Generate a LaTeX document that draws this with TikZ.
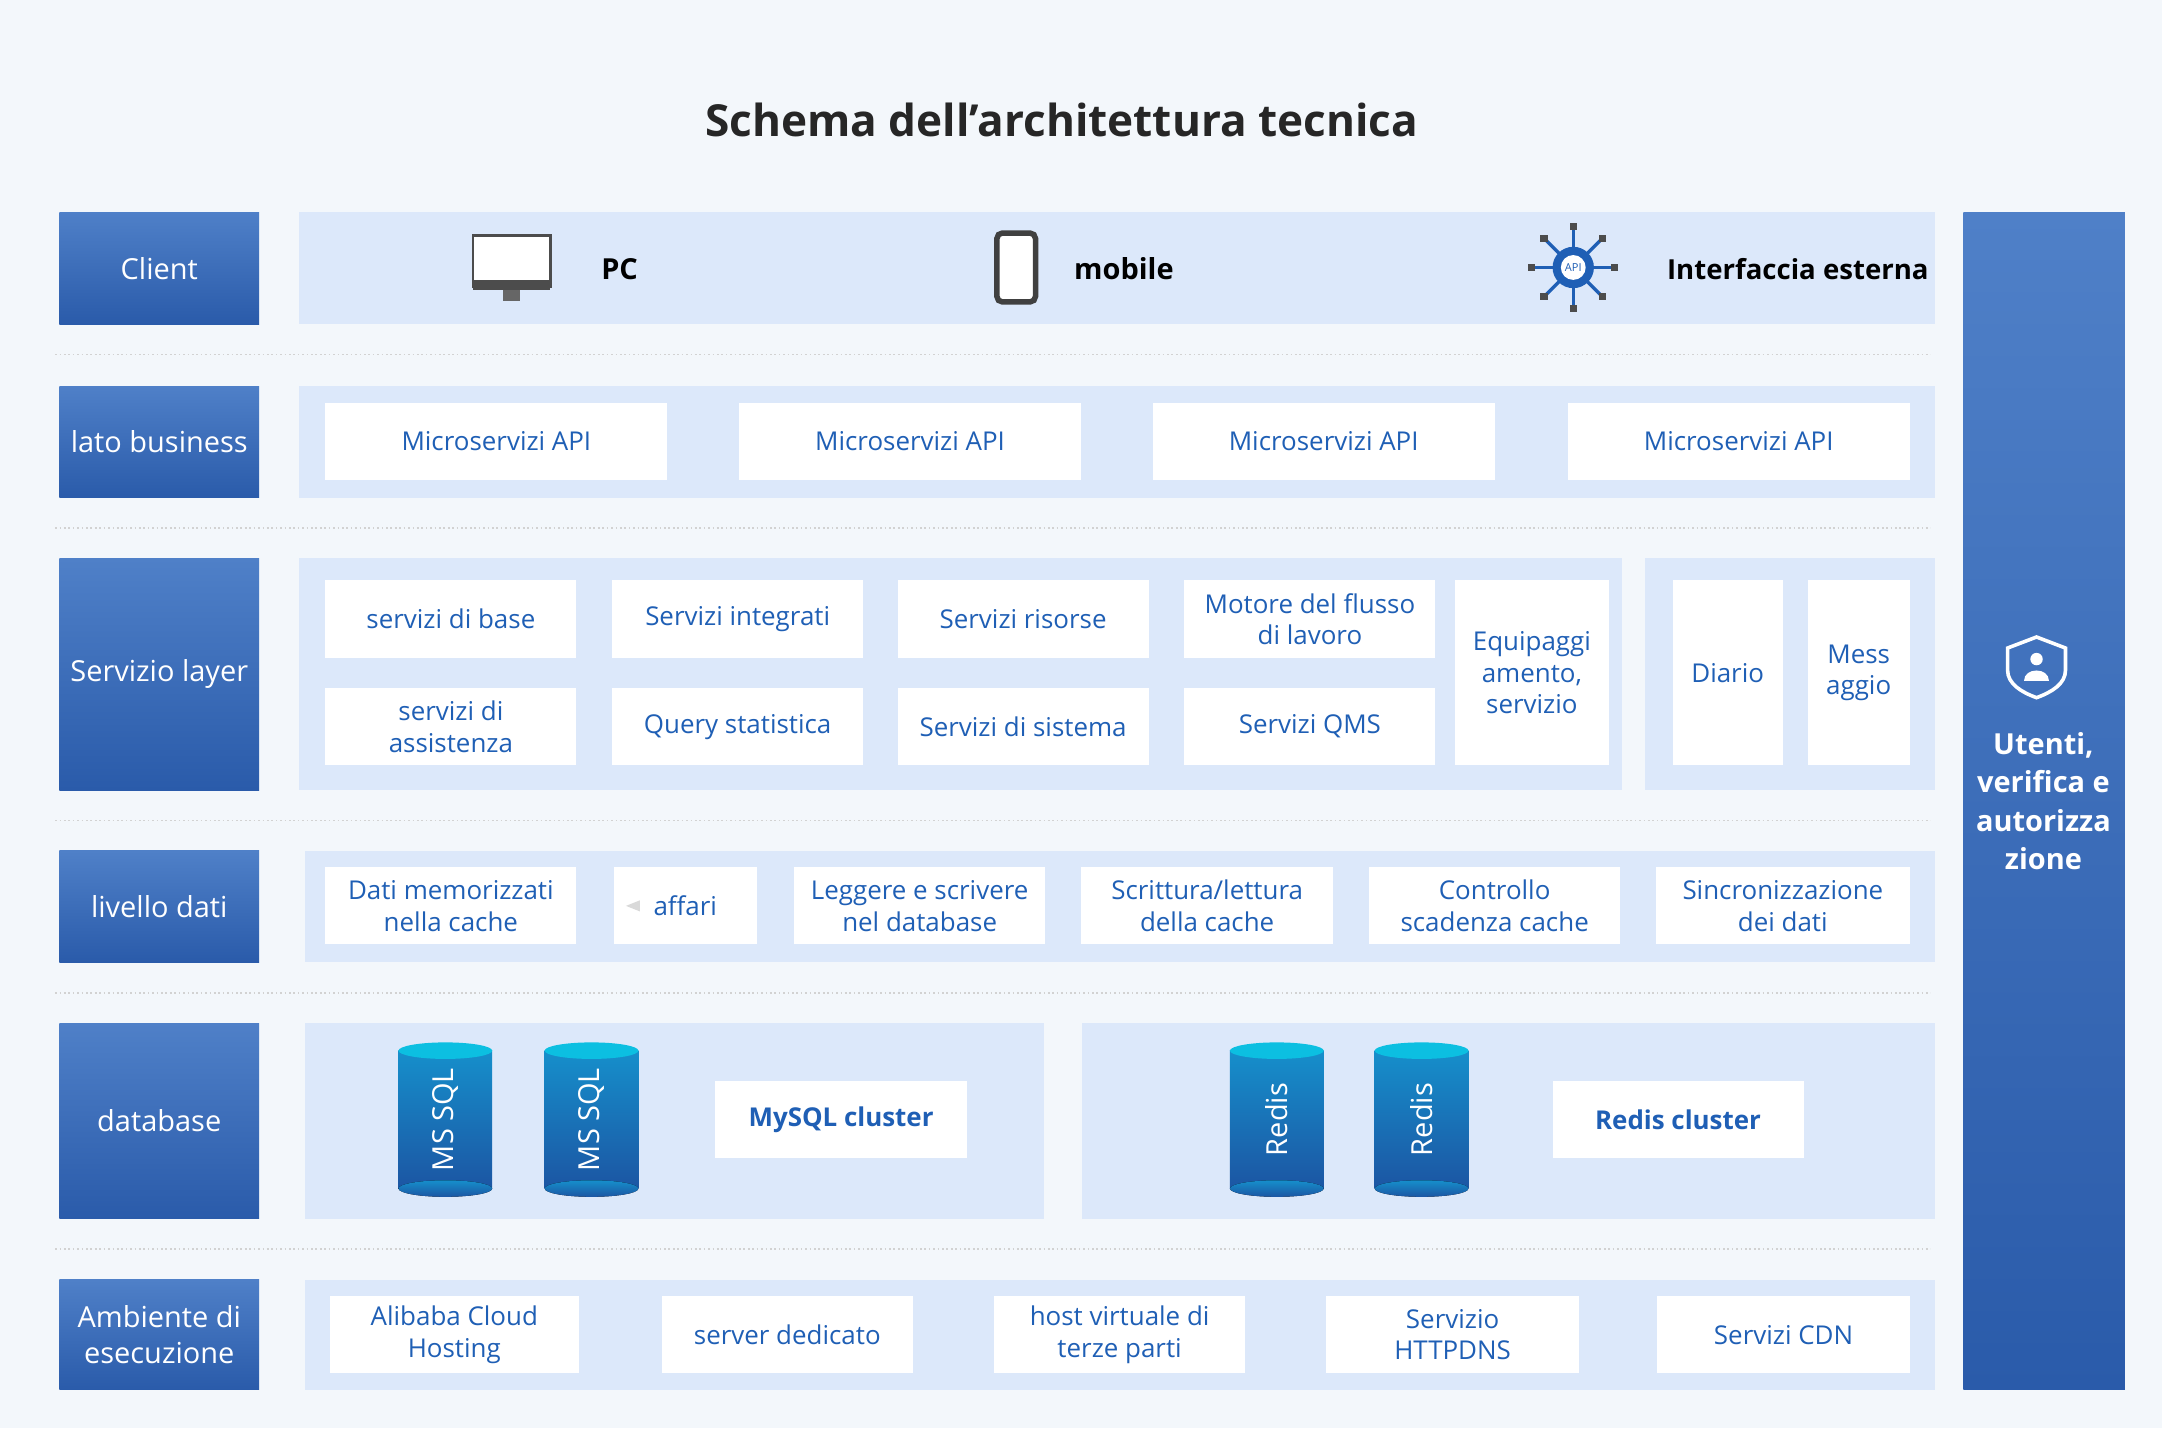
\documentclass[tikz,border=0pt]{standalone}
\usepackage{fontspec}
\setmainfont{Open Sans}
\usetikzlibrary{positioning}
\definecolor{bgc}{HTML}{F3F7FB}
\definecolor{panelc}{HTML}{DCE8FA}
\definecolor{txtb}{HTML}{1F5FB5}
\definecolor{lblt}{HTML}{4F80C8}
\definecolor{lblb}{HTML}{2A5BAA}
\tikzset{
  lbl/.style={shade,top color=lblt,bottom color=lblb,text=white,font=\fontsize{10.5}{13}\selectfont,align=center,minimum width=72.5pt,inner sep=0pt},
  panel/.style={fill=panelc,draw=none},
  wbox/.style={fill=white,text=txtb,font=\fontsize{9.4}{11.5}\selectfont,align=center,minimum height=28pt,inner sep=1pt},
  sep/.style={draw=gray!35,densely dotted,line width=0.6pt},
  cyl/.style={shade,top color=txtb!70!cyan,bottom color=txtb!90!black},
  cyltxt/.style={rotate=90,text=white,font=\fontsize{10.5}{13}\selectfont}
}
\newcommand{\dbcyl}[1]{%
  \fill[cyl] (#1-34,762) rectangle (#1+34,862);
  \fill[cyl] (#1,862) ellipse [x radius=34,y radius=6];
  \fill[txtb!40!cyan] (#1,762) ellipse [x radius=34,y radius=6];}
\begin{document}
\begin{tikzpicture}[x=0.5pt,y=-0.5pt]
\fill[bgc] (0,0) rectangle (1568,1036);
\useasboundingbox (0,0) rectangle (1568,1036);
\node[font=\fontsize{16}{20}\selectfont\bfseries,text=black!85] (title) at (770,87) {Schema dell'architettura tecnica};

% left labels
\node[lbl,minimum height=40.5pt] (client) at (115.5,194.5) {Client};
\node[lbl,minimum height=40.5pt] (business) at (115.5,320.5) {lato business};
\node[lbl,minimum height=84pt] (servizio) at (115.5,489) {Servizio layer};
\node[lbl,minimum height=40.5pt] (dati) at (115.5,657.5) {livello dati};
\node[lbl,minimum height=71pt] (database) at (115.5,813) {database};
\node[lbl,minimum height=40pt] (ambiente) at (115.5,968) {Ambiente di\\esecuzione};

% right column
\node[lbl,minimum width=58.5pt,minimum height=427pt] (utenti) at (1482.5,581) {};
\node[text=white,font=\bfseries\fontsize{10.5}{14}\selectfont,align=center] (utxt) at (1482,581) {Utenti,\\verifica e\\autorizza\\zione};
\draw[white,line width=1.3pt] (1477,462) -- (1498,470) -- (1498,486) .. controls (1498,496) and (1488,502) .. (1477,506) .. controls (1466,502) and (1456,496) .. (1456,486) -- (1456,470) -- cycle;
\fill[white] (1477,478) circle (4.5);
\fill[white] (1468,494) .. controls (1468,484) and (1486,484) .. (1486,494) -- cycle;

% separators
\foreach \y in {257,383,595,720,906} \draw[sep] (40,\y) -- (1400,\y);

% panels
\fill[panel] (217,154) rectangle (1403,235);
\fill[panel] (217,280) rectangle (1403,361);
\fill[panel] (217,405) rectangle (1176,573);
\fill[panel] (1193,405) rectangle (1403,573);
\fill[panel] (221,617) rectangle (1403,698);
\fill[panel] (221,742) rectangle (757,884);
\fill[panel] (785,742) rectangle (1403,884);
\fill[panel] (221,928) rectangle (1403,1008);

% client row
\draw[black!70,line width=1pt,fill=white] (343,171) rectangle (399,208);
\fill[black!70] (343,203) rectangle (399,210);
\fill[black!60] (365,210) rectangle (377,218);
\node[font=\bfseries\fontsize{10.5}{13}\selectfont,anchor=west] (pc) at (429,195) {PC};
\draw[black!75,line width=2pt,fill=white,rounded corners=2pt] (723,169) rectangle (751,219);
\node[font=\bfseries\fontsize{10.5}{13}\selectfont,anchor=west] (mobile) at (772,195) {mobile};
\foreach \a in {0,45,...,315} \draw[txtb,line width=1.2pt] (1141,194) -- ++(\a:30) node[fill=black!70,inner sep=1.3pt]{};
\fill[txtb] (1141,194) circle (15);
\fill[white] (1141,194) circle (9);
\node[font=\fontsize{4}{4}\selectfont,text=txtb] (api) at (1141,194) {API};
\node[font=\bfseries\fontsize{10}{13}\selectfont,anchor=west] (ext) at (1202,195) {Interfaccia esterna};

% business
\node[wbox,minimum width=124pt] (ms1) at (360,320) {Microservizi API};
\node[wbox,minimum width=124pt] (ms2) at (660,320) {Microservizi API};
\node[wbox,minimum width=124pt] (ms3) at (960,320) {Microservizi API};
\node[wbox,minimum width=124pt] (ms4) at (1261,320) {Microservizi API};

% service layer
\node[wbox,minimum width=91pt] (s1) at (327,449) {servizi di base};
\node[wbox,minimum width=91pt] (s2) at (535,449) {Servizi integrati};
\node[wbox,minimum width=91pt] (s3) at (742,449) {Servizi risorse};
\node[wbox,minimum width=91pt] (s4) at (950,449) {Motore del flusso\\di lavoro};
\node[wbox,minimum width=91pt] (s5) at (327,527) {servizi di\\assistenza};
\node[wbox,minimum width=91pt] (s6) at (535,527) {Query statistica};
\node[wbox,minimum width=91pt] (s7) at (742,527) {Servizi di sistema};
\node[wbox,minimum width=91pt] (s8) at (950,527) {Servizi QMS};
\node[wbox,minimum width=56pt,minimum height=67pt] (s9) at (1111,488) {Equipaggi\\amento,\\servizio};
\node[wbox,minimum width=40pt,minimum height=67pt] (diario) at (1253,488) {Diario};
\node[wbox,minimum width=37pt,minimum height=67pt] (mess) at (1348,488) {Mess\\aggio};

% data layer
\node[wbox,minimum width=91pt] (d1) at (327,657) {Dati memorizzati\\nella cache};
\node[wbox,minimum width=52pt] (d2) at (497,657) {affari};
\fill[gray!30] (454,657) -- (464,653) -- (464,661) -- cycle;
\node[wbox,minimum width=91pt] (d3) at (667,657) {Leggere e scrivere\\nel database};
\node[wbox,minimum width=91.5pt] (d4) at (875.5,657) {Scrittura/lettura\\della cache};
\node[wbox,minimum width=91pt] (d5) at (1084,657) {Controllo\\scadenza cache};
\node[wbox,minimum width=92pt] (d6) at (1293,657) {Sincronizzazione\\dei dati};

% database
\dbcyl{323}\node[cyltxt] (t1) at (323,812) {MS SQL};
\dbcyl{429}\node[cyltxt] (t2) at (429,812) {MS SQL};
\node[wbox,minimum width=91.5pt,font=\bfseries\fontsize{9.4}{12}\selectfont] (mysql) at (610,812) {MySQL cluster};
\dbcyl{926}\node[cyltxt] (t3) at (926,812) {Redis};
\dbcyl{1031}\node[cyltxt] (t4) at (1031,812) {Redis};
\node[wbox,minimum width=91pt,font=\bfseries\fontsize{9.4}{12}\selectfont] (redis) at (1217,812) {Redis cluster};

% environment
\node[wbox,minimum width=90.5pt] (e1) at (329.5,968) {Alibaba Cloud\\Hosting};
\node[wbox,minimum width=91pt] (e2) at (571,968) {server dedicato};
\node[wbox,minimum width=91pt] (e3) at (812,968) {host virtuale di\\terze parti};
\node[wbox,minimum width=91.5pt] (e4) at (1053.5,968) {Servizio\\HTTPDNS};
\node[wbox,minimum width=91.5pt] (e5) at (1293.5,968) {Servizi CDN};
\end{tikzpicture}
\end{document}
